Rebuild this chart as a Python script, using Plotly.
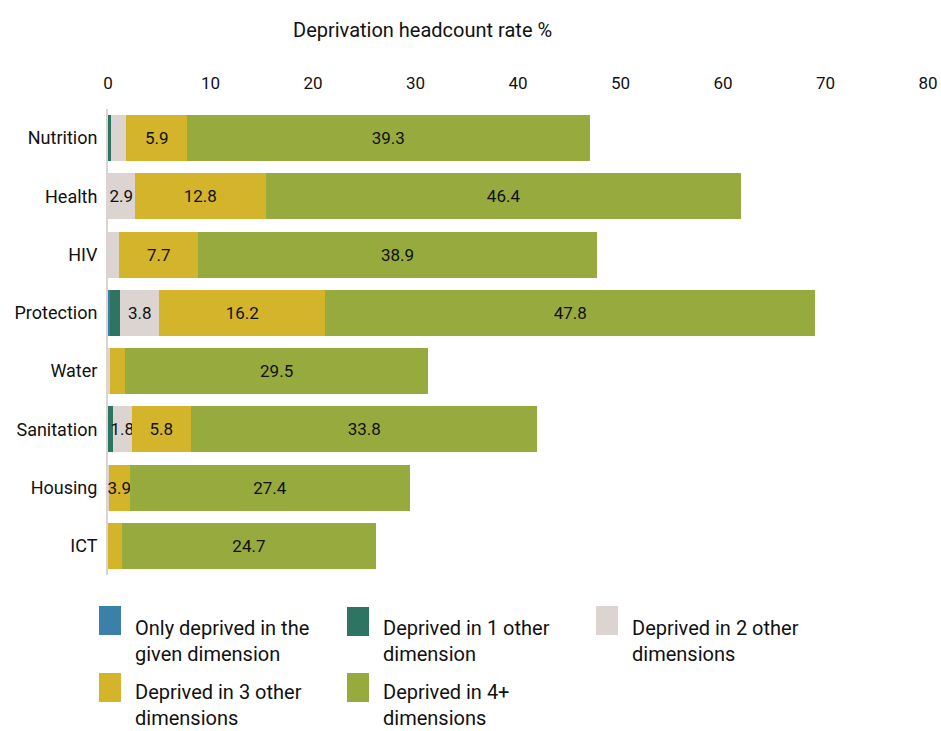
import plotly.graph_objects as go

categories = ["Nutrition", "Health", "HIV", "Protection", "Water", "Sanitation", "Housing", "ICT"]
only_given = [0.0, 0.0, 0.0, 0.2, 0.0, 0.0, 0.0, 0.0]
other_1 = [0.3, 0.0, 0.0, 1.0, 0.0, 0.5, 0.0, 0.0]
other_2 = [1.5, 2.6, 1.1, 3.8, 0.2, 1.8, 0.1, 0.0]
other_3 = [5.9, 12.8, 7.7, 16.2, 1.5, 5.8, 2.0, 1.4]
other_4 = [39.3, 46.4, 38.9, 47.8, 29.5, 33.8, 27.4, 24.7]

labels_2 = ["", "2.9", "", "3.8", "", "1.8", "", ""]
labels_3 = ["5.9", "12.8", "7.7", "16.2", "", "5.8", "3.9", ""]
labels_4 = ["39.3", "46.4", "38.9", "47.8", "29.5", "33.8", "27.4", "24.7"]

series_names = [
    "Only deprived in the<br>given dimension",
    "Deprived in 1 other<br>dimension",
    "Deprived in 2 other<br>dimensions",
    "Deprived in 3 other<br>dimensions",
    "Deprived in 4+<br>dimensions",
]
colors = ["#3b80a8", "#2e7462", "#dcd4d0", "#d4b42b", "#96aa3e"]
x_ticks = [0, 10, 20, 30, 40, 50, 60, 70, 80]

FONT = "Roboto, Liberation Sans, sans-serif"

series_values = [only_given, other_1, other_2, other_3, other_4]
series_text = [None, None, labels_2, labels_3, labels_4]

fig = go.Figure()
for name, vals, col, txt in zip(series_names, series_values, colors, series_text):
    fig.add_trace(go.Bar(
        y=categories, x=vals, orientation="h", name=name,
        marker=dict(color=col, line=dict(width=0)),
        text=txt, textposition="inside" if txt else "none",
        insidetextanchor="middle", textangle=0,
        textfont=dict(family=FONT, size=17, color="#111111"),
        showlegend=False, hoverinfo="x+name",
    ))

W, H = 941, 731
PL, PR, PT, PB = 108, 928, 109, 575   # plot area in window pixels
L, R, T, B = PL, W - PR, PT, H - PB
pw, ph = PR - PL, PB - PT

def px(x):
    return (x - PL) / pw

def py(y):
    return (PB - y) / ph

shapes = []
annotations = []
legend_pos = [(99, 606, 641), (347, 607, 641), (596, 606, 641), (99, 673, 705), (347, 673, 705)]
for (lx, ly, ty), name, col in zip(legend_pos, series_names, colors):
    shapes.append(dict(type="rect", xref="paper", yref="paper",
                       x0=px(lx), x1=px(lx + 22), y0=py(ly), y1=py(ly + 29),
                       fillcolor=col, line=dict(width=0)))
    annotations.append(dict(xref="paper", yref="paper", x=px(lx + 34), y=py(ty),
                            xanchor="left", yanchor="middle", align="left",
                            text=name, showarrow=False,
                            font=dict(family=FONT, size=20, color="#111111")))

annotations.append(dict(xref="paper", yref="paper", x=px(422), y=py(30),
                        xanchor="center", yanchor="middle", showarrow=False,
                        text="Deprivation headcount rate %",
                        font=dict(family=FONT, size=20, color="#111111")))

fig.update_layout(
    width=W, height=H, barmode="stack", bargap=0.21,
    margin=dict(l=L, r=R, t=T, b=B, autoexpand=False),
    paper_bgcolor="white", plot_bgcolor="white",
    font=dict(family=FONT, color="#111111"),
    uniformtext=dict(minsize=17, mode="show"),
    shapes=shapes, annotations=annotations,
    xaxis=dict(side="top", range=[0, 80], tickvals=x_ticks, showgrid=False,
               zeroline=False, showline=False, ticks="",
               ticklabelstandoff=16,
               tickfont=dict(family=FONT, size=17, color="#111111")),
    yaxis=dict(autorange="reversed", showgrid=False, zeroline=False,
               showline=True, linecolor="#dcd4d0", linewidth=2, ticks="",
               ticklabelstandoff=5,
               tickfont=dict(family=FONT, size=18, color="#111111")),
)

fig.write_html("out.html", config={"displayModeBar": False},
               post_script="document.body.style.margin='0';document.body.style.overflow='hidden';")
